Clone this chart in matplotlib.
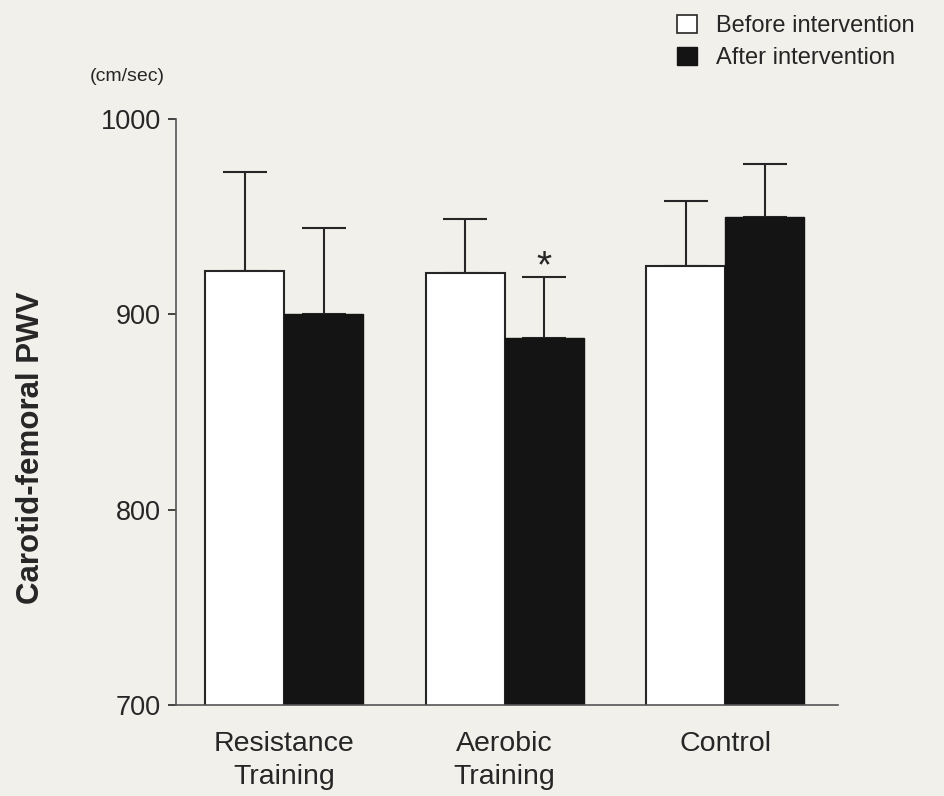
import matplotlib
matplotlib.use('Agg')
import matplotlib.pyplot as plt
from matplotlib.patches import Patch
import numpy as np

plt.rcParams['font.family'] = ['Liberation Sans', 'DejaVu Sans']

groups = ['Resistance\nTraining', 'Aerobic\nTraining', 'Control']
before = [922, 921, 925]
after = [900, 888, 950]
before_err = [51, 28, 33]
after_err = [44, 31, 27]

bg = '#f1f0eb'
ink = '#262626'
dark = '#141414'

fig = plt.figure(figsize=(9.44, 7.96), dpi=100, facecolor=bg)
ax = fig.add_axes([176/944, 1 - 705/796, 662/944, 586/796])
ax.set_facecolor(bg)

x = np.arange(len(groups))
w = 0.358

ax.bar(x - w/2, before, width=w, bottom=0, color='white', edgecolor=ink,
       linewidth=1.5, align='center', zorder=2)
ax.bar(x + w/2, after, width=w, bottom=0, color=dark, edgecolor=dark,
       linewidth=1.0, align='center', zorder=2)

ax.errorbar(x - w/2, before, yerr=[[0]*3, before_err], fmt='none',
            ecolor=ink, elinewidth=1.5, capsize=16, capthick=1.5, zorder=1)
ax.errorbar(x + w/2, after, yerr=[[0]*3, after_err], fmt='none',
            ecolor=ink, elinewidth=1.5, capsize=16, capthick=1.5, zorder=1)

# significance mark
ax.text(x[1] + w/2, after[1] + after_err[1] + 5, '*', ha='center', va='center',
        fontsize=28, color=ink)

ax.set_ylim(700, 1000)
ax.set_xlim(-0.49, 2.512)
ax.set_yticks([700, 800, 900, 1000])
ax.set_xticks(x)
ax.set_xticklabels(groups, fontsize=20.5, color=ink, linespacing=1.35)
ax.tick_params(axis='x', length=0, pad=19)
ax.tick_params(axis='y', direction='out', length=6, width=1.2, colors=ink,
               labelsize=19.5, pad=5)

for s in ['top', 'right']:
    ax.spines[s].set_visible(False)
for s in ['left', 'bottom']:
    ax.spines[s].set_color('#555555')
    ax.spines[s].set_linewidth(1.2)

ax.set_ylabel('Carotid-femoral PWV', fontsize=22.5, fontweight='bold', color=ink)
ax.yaxis.set_label_coords(-0.196, 0.4386)

ax.text(-0.074, 1.0717, '(cm/sec)', transform=ax.transAxes, ha='center',
        va='center', fontsize=14, color=ink)

handles = [Patch(facecolor='white', edgecolor=ink, linewidth=1.2, label='Before intervention'),
           Patch(facecolor=dark, edgecolor=dark, label='After intervention')]
fig.legend(handles=handles, loc='upper left', bbox_to_anchor=(656/944, 1 + 6/796),
           frameon=False, fontsize=17, handlelength=0.85, handleheight=0.8,
           handletextpad=0.8, labelspacing=0.4, labelcolor=ink)

fig.savefig('out.png', dpi=100, facecolor=bg)
